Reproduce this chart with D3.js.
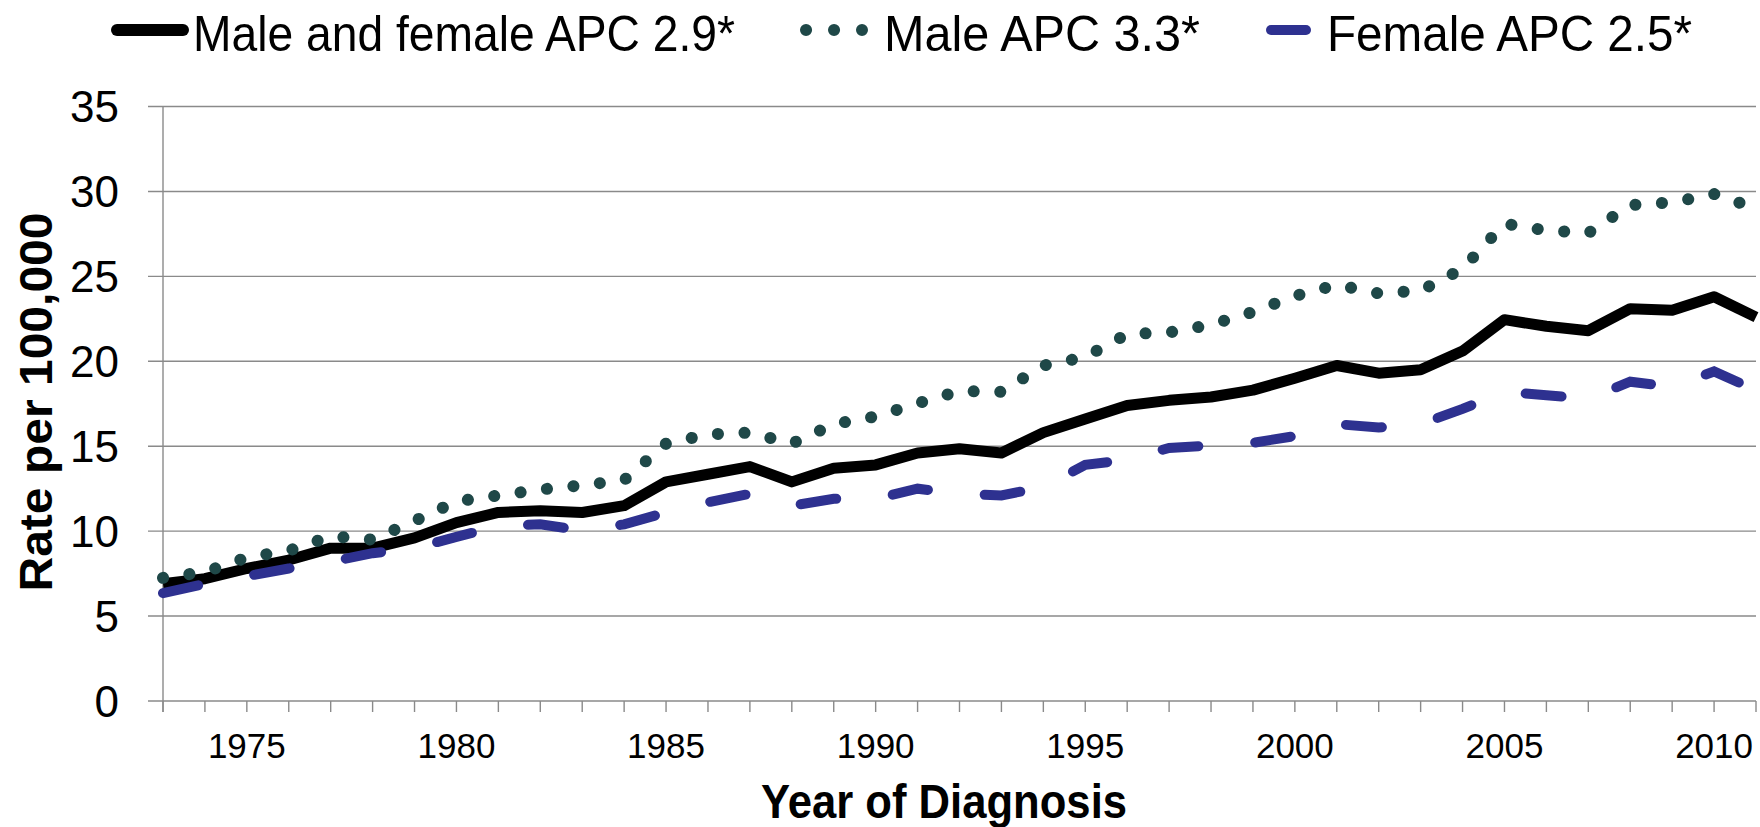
<!DOCTYPE html>
<html>
<head>
<meta charset="utf-8">
<script src="https://cdn.jsdelivr.net/npm/d3@7"></script>
<style>
  html, body { margin: 0; padding: 0; background: #fff; }
  svg { display: block; font-family: 'Liberation Sans', Arial, sans-serif; }
</style>
</head>
<body>
<div id="chart"></div>
<script>
// Years of diagnosis, 1973-2011
const years = d3.range(1973, 2012)

// Rates per 100,000
const bothSexes = [
  6.9, 7.2, 7.8, 8.3, 9.0, 9.0, 9.6, 10.5, 11.1, 11.2,
  11.1, 11.5, 12.9, 13.35, 13.8, 12.9, 13.7, 13.9, 14.6, 14.85,
  14.6, 15.8, 16.6, 17.4, 17.7, 17.9, 18.3, 19.0, 19.75, 19.3,
  19.5, 20.6, 22.45, 22.06, 21.8, 23.1, 23.0, 23.8, 22.6,
]
const male = [
  7.25, 7.6, 8.45, 8.85, 9.7, 9.5, 10.6, 11.75, 12.1, 12.45,
  12.7, 13.0, 15.15, 15.7, 15.8, 15.15, 16.3, 16.75, 17.52, 18.25,
  18.2, 19.75, 20.25, 21.6, 21.7, 22.15, 22.9, 23.85, 24.5, 24.0,
  24.15, 25.45, 28.1, 27.7, 27.55, 29.2, 29.35, 29.85, 29.0,
]
const female = [
  6.35, 6.9, 7.35, 7.8, 8.2, 8.7, 9.0, 9.66, 10.3, 10.4,
  10.05, 10.4, 11.1, 11.7, 12.2, 11.5, 11.9, 11.9, 12.5, 12.2,
  12.1, 12.6, 13.9, 14.2, 14.9, 15.05, 15.2, 15.6, 16.3, 16.1,
  16.3, 17.2, 18.2, 18.0, 17.8, 18.8, 18.5, 19.4, 18.3,
]

const yTicks = [0, 5, 10, 15, 20, 25, 30, 35]
const xLabels = [1975, 1980, 1985, 1990, 1995, 2000, 2005, 2010]

const seriesNames = ['Male and female APC 2.9*', 'Male APC 3.3*', 'Female APC 2.5*']

const width = 1760
const height = 827
const plotLeft = 163
const plotRight = 1756
const plotTop = 106.5
const plotBottom = 701

const gridColor = '#8a8a8a'
const maleColor = '#1f4848'
const femaleColor = '#2e3190'

const svg = d3
  .select('#chart')
  .append('svg')
  .attr('width', width)
  .attr('height', height)
  .attr('viewBox', `0 0 ${width} ${height}`)

const x = d3.scaleLinear().domain([1973, 2011]).range([plotLeft, plotRight])
const y = d3.scaleLinear().domain([0, 35]).range([plotBottom, plotTop])

// horizontal gridlines, they stick out a bit left of the axis
svg
  .append('g')
  .selectAll('line')
  .data(yTicks)
  .join('line')
  .attr('x1', plotLeft - 15)
  .attr('x2', plotRight)
  .attr('y1', (d) => y(d))
  .attr('y2', (d) => y(d))
  .attr('stroke', gridColor)
  .attr('stroke-width', 1.4)

// y axis line
svg
  .append('line')
  .attr('x1', plotLeft)
  .attr('x2', plotLeft)
  .attr('y1', plotTop)
  .attr('y2', plotBottom + 11)
  .attr('stroke', gridColor)
  .attr('stroke-width', 1.4)

// x ticks, one per year
svg
  .append('g')
  .selectAll('line')
  .data(years)
  .join('line')
  .attr('x1', (d) => x(d))
  .attr('x2', (d) => x(d))
  .attr('y1', plotBottom)
  .attr('y2', plotBottom + 11)
  .attr('stroke', gridColor)
  .attr('stroke-width', 1.4)

// y tick labels
svg
  .append('g')
  .selectAll('text')
  .data(yTicks)
  .join('text')
  .attr('x', 119)
  .attr('y', (d) => y(d))
  .attr('dy', '0.36em')
  .attr('text-anchor', 'end')
  .attr('font-size', 44)
  .attr('fill', '#000')
  .text((d) => d)

// x tick labels
svg
  .append('g')
  .selectAll('text')
  .data(xLabels)
  .join('text')
  .attr('x', (d) => x(d))
  .attr('y', 758)
  .attr('text-anchor', 'middle')
  .attr('font-size', 35)
  .attr('fill', '#000')
  .text((d) => d)

// axis titles
svg
  .append('text')
  .attr('x', 944)
  .attr('y', 818)
  .attr('text-anchor', 'middle')
  .attr('font-size', 48)
  .attr('font-weight', 700)
  .attr('textLength', 366)
  .attr('lengthAdjust', 'spacingAndGlyphs')
  .text('Year of Diagnosis')

svg
  .append('text')
  .attr('transform', 'translate(52, 402) rotate(-90)')
  .attr('text-anchor', 'middle')
  .attr('font-size', 46)
  .attr('font-weight', 700)
  .attr('textLength', 379)
  .attr('lengthAdjust', 'spacingAndGlyphs')
  .text('Rate per 100,000')

const line = d3
  .line()
  .x((d) => x(d.year))
  .y((d) => y(d.value))

const toPoints = (vals) => years.map((yr, i) => ({ year: yr, value: vals[i] }))

// series drawn in legend order: combined, male, female
svg
  .append('path')
  .attr('d', line(toPoints(bothSexes)))
  .attr('fill', 'none')
  .attr('stroke', '#000')
  .attr('stroke-width', 11)
  .attr('stroke-linejoin', 'round')

svg
  .append('path')
  .attr('d', line(toPoints(male)))
  .attr('fill', 'none')
  .attr('stroke', maleColor)
  .attr('stroke-width', 12)
  .attr('stroke-linecap', 'round')
  .attr('stroke-dasharray', '0.1 26.5')

svg
  .append('path')
  .attr('d', line(toPoints(female)))
  .attr('fill', 'none')
  .attr('stroke', femaleColor)
  .attr('stroke-width', 10)
  .attr('stroke-linecap', 'round')
  .attr('stroke-dasharray', '36 57')

// legend
const legend = svg.append('g').attr('class', 'legend')
const legendY = 30
const legendItems = [
  { name: seriesNames[0], x1: 117, x2: 183, color: '#000', w: 12, dash: null, tx: 193, tl: 542 },
  { name: seriesNames[1], x1: 806, x2: 862, color: maleColor, w: 12, dash: '0.1 27.9', tx: 884, tl: 316 },
  { name: seriesNames[2], x1: 1271, x2: 1306, color: femaleColor, w: 10, dash: null, tx: 1327, tl: 365 },
]

legendItems.forEach((d) => {
  legend
    .append('line')
    .attr('x1', d.x1)
    .attr('x2', d.x2)
    .attr('y1', legendY)
    .attr('y2', legendY)
    .attr('stroke', d.color)
    .attr('stroke-width', d.w)
    .attr('stroke-linecap', 'round')
    .attr('stroke-dasharray', d.dash)

  legend
    .append('text')
    .attr('x', d.tx)
    .attr('y', 51)
    .attr('font-size', 50)
    .attr('textLength', d.tl)
    .attr('lengthAdjust', 'spacingAndGlyphs')
    .text(d.name)
})
</script>
</body>
</html>
